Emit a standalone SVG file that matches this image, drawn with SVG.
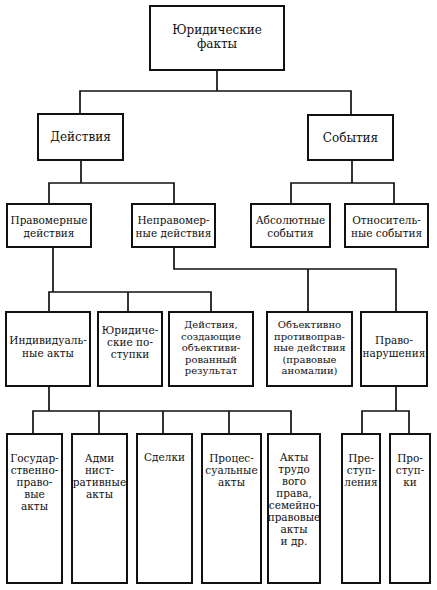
<svg xmlns="http://www.w3.org/2000/svg" width="437" height="590" viewBox="0 0 437 590">
<style>
rect{fill:#fff;stroke:#111;stroke-width:2}
text{font-family:'DejaVu Serif','Liberation Serif',serif;font-size:10px;fill:#111;text-anchor:middle}
.big{font-size:12px}
.mid{font-size:10.5px}
#connectors path{fill:none;stroke:#111;stroke-width:1.7}
</style>
<rect x="0" y="0" width="437" height="590" style="stroke:none"/>
<g id="connectors">
<path d="M217,70V91M80,114V91H351V115"/>
<path d="M81,160V183M49,204V183H174V204"/>
<path d="M352,160V183M291,204V183H394V204"/>
<path d="M53,247V292M49,312V292H211V312M128,292V312"/>
<path d="M174,247V269H396V312M308,269V312"/>
<path d="M49,386V411M33,434V411H291V434M99,411V434M163,411V434M229,411V434"/>
<path d="M396,386V411M362,434V411H409V434"/>
</g>
<g id="n-root"><rect x="150" y="6" width="134" height="64"/><text class="big" x="217" y="34">Юридические</text><text class="big" x="217" y="48">факты</text></g>
<g id="n-actions"><rect x="38" y="114" width="85" height="46"/><text class="big" x="80.5" y="141">Действия</text></g>
<g id="n-events"><rect x="308" y="115" width="85" height="45"/><text class="big" x="350.5" y="142">События</text></g>
<g id="n-lawful"><rect x="7" y="204" width="84" height="43"/><text class="mid" x="49" y="224">Правомерные</text><text class="mid" x="49" y="237">действия</text></g>
<g id="n-unlawful"><rect x="132" y="204" width="83" height="43"/><text class="mid" x="173.5" y="224">Неправомер-</text><text class="mid" x="173.5" y="237">ные действия</text></g>
<g id="n-absolute"><rect x="251" y="204" width="79" height="43"/><text class="mid" x="290.5" y="224">Абсолютные</text><text class="mid" x="290.5" y="237">события</text></g>
<g id="n-relative"><rect x="345" y="204" width="83" height="43"/><text class="mid" x="386.5" y="224">Относитель-</text><text class="mid" x="386.5" y="237">ные события</text></g>
<g id="n-individual"><rect x="6" y="312" width="84" height="74"/><text class="mid" x="48" y="344">Индивидуаль-</text><text class="mid" x="48" y="357">ные акты</text></g>
<g id="n-deeds"><rect x="98" y="312" width="64" height="74"/><text class="mid" x="130" y="334">Юридиче-</text><text class="mid" x="130" y="346">ские по-</text><text class="mid" x="130" y="358">ступки</text></g>
<g id="n-result"><rect x="169" y="312" width="84" height="74"/><text x="211" y="328">Действия,</text><text x="211" y="339.5">создающие</text><text x="211" y="351">объективи-</text><text x="211" y="362.5">рованный</text><text x="211" y="374">результат</text></g>
<g id="n-objective"><rect x="267" y="312" width="85" height="74"/><text x="309.5" y="328">Объективно</text><text x="309.5" y="339.5">противоправ-</text><text x="309.5" y="351">ные действия</text><text x="309.5" y="362.5">(правовые</text><text x="309.5" y="374">аномалии)</text></g>
<g id="n-offenses"><rect x="361" y="312" width="66" height="74"/><text class="mid" x="394" y="344">Право-</text><text class="mid" x="394" y="357">нарушения</text></g>
<g id="n-state"><rect x="7" y="434" width="55" height="149"/><text class="mid" x="34.5" y="462">Государ-</text><text class="mid" x="34.5" y="474">ственно-</text><text class="mid" x="34.5" y="486">право-</text><text class="mid" x="34.5" y="498">вые</text><text class="mid" x="34.5" y="510">акты</text></g>
<g id="n-admin"><rect x="72" y="434" width="55" height="149"/><text class="mid" x="99.5" y="462">Адми</text><text class="mid" x="99.5" y="474">нист-</text><text class="mid" x="99.5" y="486">ративные</text><text class="mid" x="99.5" y="498">акты</text></g>
<g id="n-deals"><rect x="137" y="434" width="55" height="149"/><text class="mid" x="164.5" y="461">Сделки</text></g>
<g id="n-procedural"><rect x="202" y="434" width="59" height="149"/><text class="mid" x="231.5" y="462">Процес-</text><text class="mid" x="231.5" y="474">суальные</text><text class="mid" x="231.5" y="486">акты</text></g>
<g id="n-labour"><rect x="268" y="434" width="52" height="149"/><text class="mid" x="294" y="461">Акты</text><text class="mid" x="294" y="473">трудо</text><text class="mid" x="294" y="485">вого</text><text class="mid" x="294" y="497">права,</text><text class="mid" x="294" y="509">семейно-</text><text class="mid" x="294" y="521">правовые</text><text class="mid" x="294" y="533">акты</text><text class="mid" x="294" y="545">и др.</text></g>
<g id="n-crimes"><rect x="342" y="434" width="38" height="149"/><text class="mid" x="361" y="462">Пре-</text><text class="mid" x="361" y="474">ступ-</text><text class="mid" x="361" y="486">ления</text></g>
<g id="n-misdemeanors"><rect x="390" y="434" width="40" height="149"/><text class="mid" x="410" y="462">Про-</text><text class="mid" x="410" y="474">ступ-</text><text class="mid" x="410" y="486">ки</text></g>
</svg>
